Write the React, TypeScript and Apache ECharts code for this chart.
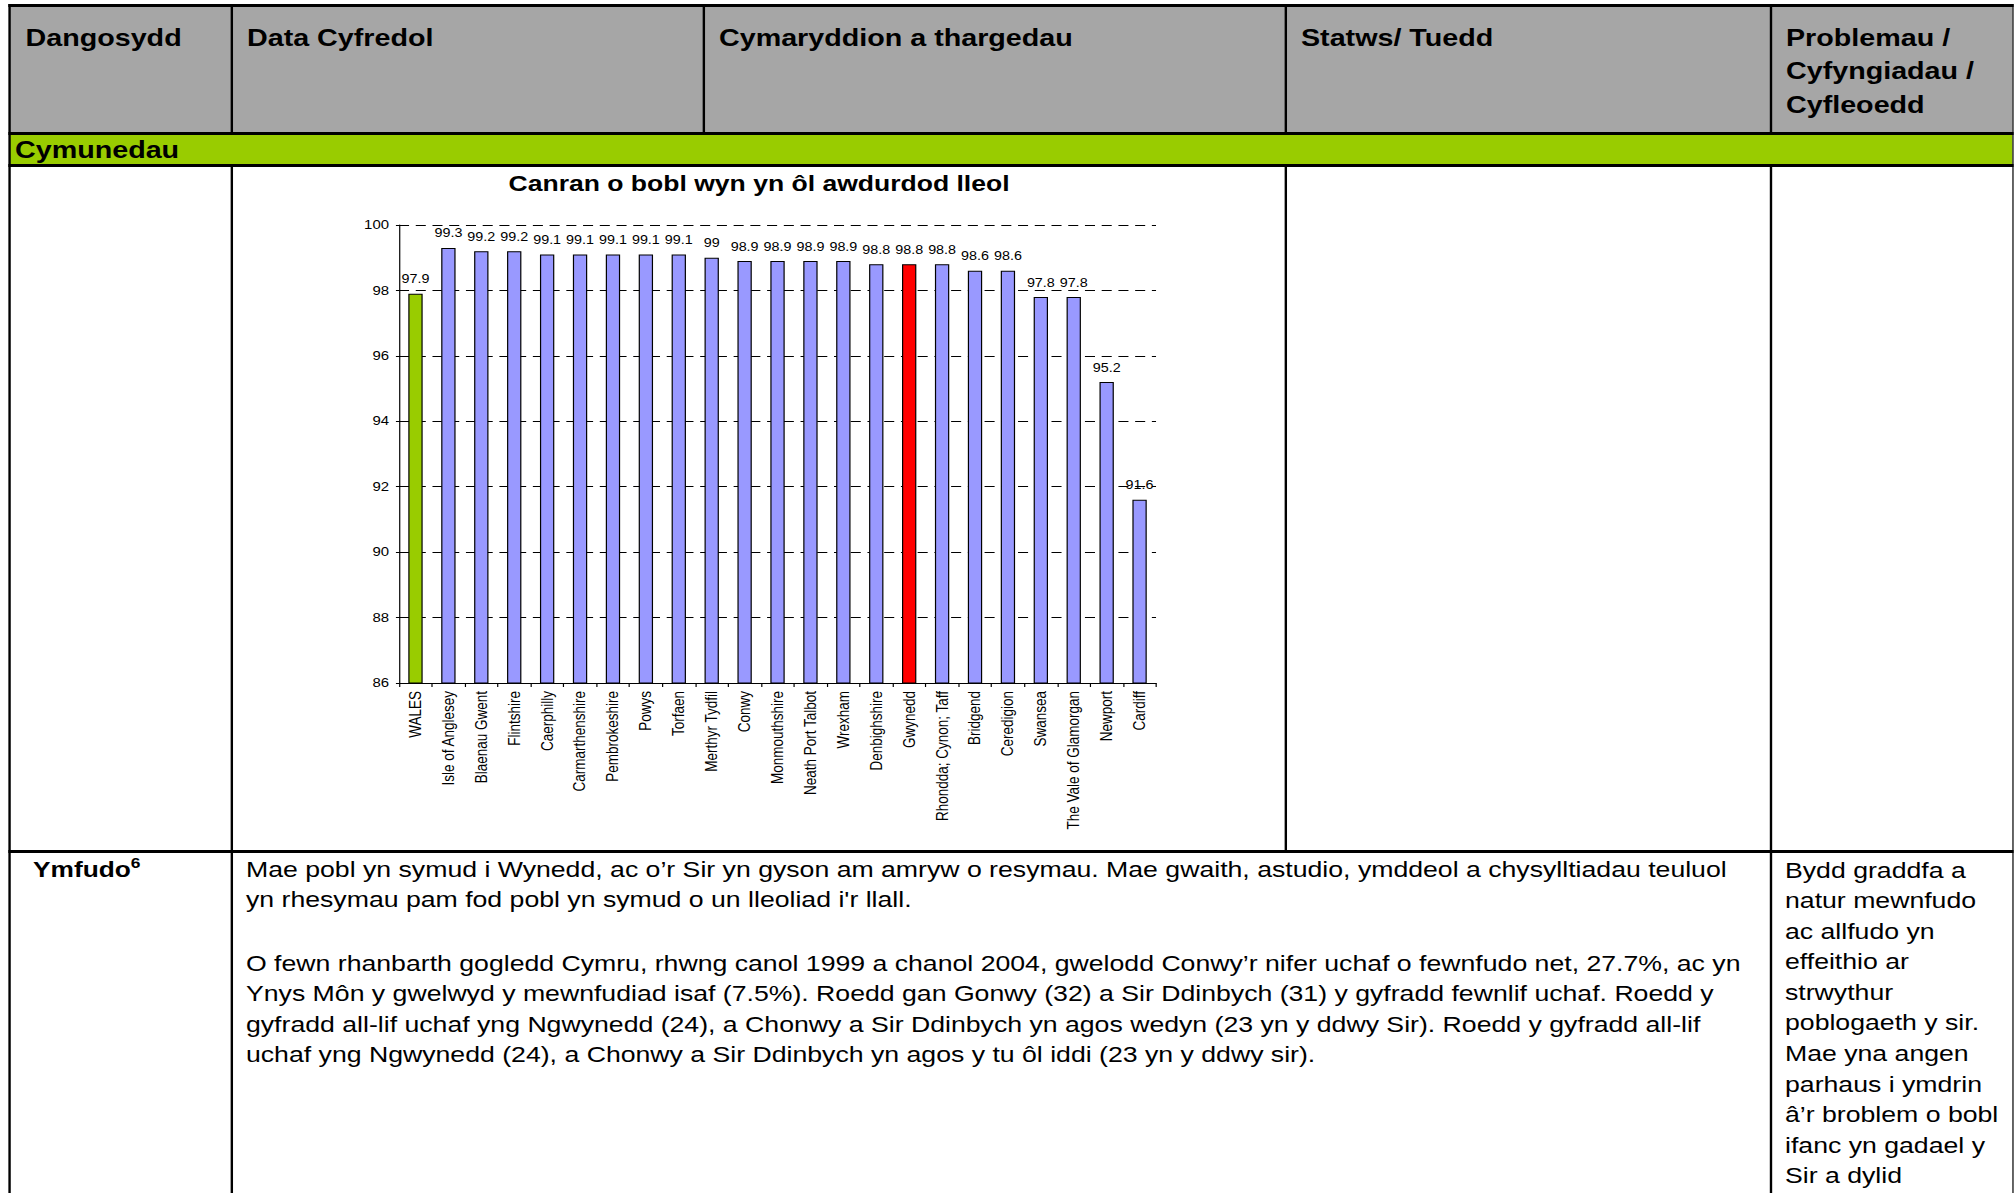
import React, { useEffect, useRef } from "react";
import * as echarts from "echarts";

// ---------- data ----------
const chartTitle = "Canran o bobl wyn yn ôl awdurdod lleol";
const categories = [
  "WALES",
  "Isle of Anglesey",
  "Blaenau Gwent",
  "Flintshire",
  "Caerphilly",
  "Carmarthenshire",
  "Pembrokeshire",
  "Powys",
  "Torfaen",
  "Merthyr Tydfil",
  "Conwy",
  "Monmouthshire",
  "Neath Port Talbot",
  "Wrexham",
  "Denbighshire",
  "Gwynedd",
  "Rhondda; Cynon; Taff",
  "Bridgend",
  "Ceredigion",
  "Swansea",
  "The Vale of Glamorgan",
  "Newport",
  "Cardiff",
];
const values = [
  97.9, 99.3, 99.2, 99.2, 99.1, 99.1, 99.1, 99.1, 99.1, 99, 98.9, 98.9, 98.9,
  98.9, 98.8, 98.8, 98.8, 98.6, 98.6, 97.8, 97.8, 95.2, 91.6,
];
const yMin = 86;
const yMax = 100;
const yStep = 2;
const nationCategory = "WALES";
const focusCategory = "Gwynedd";

const headerCells = [
  ["Dangosydd"],
  ["Data Cyfredol"],
  ["Cymaryddion a thargedau"],
  ["Statws/ Tuedd"],
  ["Problemau /", "Cyfyngiadau /", "Cyfleoedd"],
];
const sectionLabel = "Cymunedau";
const rowLabel = "Ymfudo";
const rowFootnote = "6";
const paragraph1 = [
  "Mae pobl yn symud i Wynedd, ac o’r Sir yn gyson am amryw o resymau. Mae gwaith, astudio, ymddeol a chysylltiadau teuluol",
  "yn rhesymau pam fod pobl yn symud o un lleoliad i'r llall.",
];
const paragraph2 = [
  "O fewn rhanbarth gogledd Cymru, rhwng canol 1999 a chanol 2004, gwelodd Conwy’r nifer uchaf o fewnfudo net, 27.7%, ac yn",
  "Ynys Môn y gwelwyd y mewnfudiad isaf (7.5%). Roedd gan Gonwy (32) a Sir Ddinbych (31) y gyfradd fewnlif uchaf. Roedd y",
  "gyfradd all-lif uchaf yng Ngwynedd (24), a Chonwy a Sir Ddinbych yn agos wedyn (23 yn y ddwy Sir). Roedd y gyfradd all-lif",
  "uchaf yng Ngwynedd (24), a Chonwy a Sir Ddinbych yn agos y tu ôl iddi (23 yn y ddwy sir).",
];
const issuesLines = [
  "Bydd graddfa a",
  "natur mewnfudo",
  "ac allfudo yn",
  "effeithio ar",
  "strwythur",
  "poblogaeth y sir.",
  "Mae yna angen",
  "parhaus i ymdrin",
  "â’r broblem o bobl",
  "ifanc yn gadael y",
  "Sir a dylid",
];

// ---------- layout / style ----------
const PAGE_W = 2015;
const PAGE_H = 1193;
const S = 1.195; // horizontal stretch of the original page
const U_W = PAGE_W / S;
const ux = (full: number) => full / S;
const FONT = "'Liberation Sans', Arial, Helvetica, sans-serif";
const BLUE = "#9999FF";
const GREEN = "#99CC00";
const RED = "#FF0000";
const HEADER_GREY = "#A6A6A6";

const colX = [9.5, 232, 704, 1286, 1771, 2013]; // full-size x of vertical rules

function Box(props: { x1: number; x2: number; y1: number; y2: number; bg: string }) {
  const { x1, x2, y1, y2, bg } = props;
  return (
    <div
      style={{
        position: "absolute",
        left: ux(x1),
        width: ux(x2) - ux(x1),
        top: y1,
        height: y2 - y1,
        background: bg,
      }}
    />
  );
}

function VLine(props: { x: number; y1: number; y2: number }) {
  return <Box x1={props.x - 1} x2={props.x + 1} y1={props.y1} y2={props.y2} bg="#000" />;
}
function HLine(props: { y: number; x1?: number; x2?: number }) {
  return <Box x1={props.x1 ?? 8.5} x2={props.x2 ?? 2014} y1={props.y - 1.4} y2={props.y + 1.4} bg="#000" />;
}

function TextBlock(props: {
  x: number;
  top: number;
  lines: string[];
  size: number;
  lh: number;
  bold?: boolean;
}) {
  return (
    <div
      style={{
        position: "absolute",
        left: ux(props.x),
        top: props.top,
        fontFamily: FONT,
        fontSize: props.size,
        lineHeight: props.lh + "px",
        fontWeight: props.bold ? "bold" : "normal",
        color: "#000",
        whiteSpace: "nowrap",
      }}
    >
      {props.lines.map((l, i) => (
        <div key={i}>{l}</div>
      ))}
    </div>
  );
}

// chart cell (full coords)
const CELL_X1 = 233;
const CELL_X2 = 1285;
const CELL_Y1 = 167;
const CELL_Y2 = 850;
const PLOT_X1 = 399;
const PLOT_X2 = 1156;
const PLOT_Y1 = 225;
const PLOT_Y2 = 683;

function Chart() {
  const ref = useRef<HTMLDivElement>(null);
  useEffect(() => {
    if (!ref.current) return;
    const chart = echarts.init(ref.current, undefined, { renderer: "svg" });
    const barColor = (c: string) =>
      c === nationCategory ? GREEN : c === focusCategory ? RED : BLUE;
    chart.setOption({
      animation: false,
      textStyle: { fontFamily: FONT },
      graphic: [
        {
          type: "text",
          x: ux(759) - ux(CELL_X1),
          y: 182.8 - CELL_Y1,
          style: {
            text: chartTitle,
            fontSize: 22.2,
            fontWeight: "bold",
            fill: "#000",
            align: "center",
            verticalAlign: "middle",
            fontFamily: FONT,
          },
        },
      ],
      grid: {
        left: ux(PLOT_X1) - ux(CELL_X1),
        top: PLOT_Y1 - CELL_Y1,
        width: ux(PLOT_X2) - ux(PLOT_X1),
        height: PLOT_Y2 - PLOT_Y1,
        containLabel: false,
      },
      xAxis: {
        type: "category",
        data: categories,
        axisLine: { show: true, onZero: false, lineStyle: { color: "#000", width: 1 } },
        axisTick: { show: true, length: 4, lineStyle: { color: "#000" } },
        axisLabel: {
          interval: 0,
          rotate: 90,
          fontSize: 13.5,
          color: "#000",
          margin: 8,
          fontFamily: FONT,
        },
        splitLine: { show: false },
      },
      yAxis: {
        type: "value",
        min: yMin,
        max: yMax,
        interval: yStep,
        axisLine: { show: true, lineStyle: { color: "#000", width: 1 } },
        axisTick: { show: true, length: 2.6, lineStyle: { color: "#000" } },
        axisLabel: { fontSize: 12.5, color: "#000", margin: 8.4, fontFamily: FONT },
        splitLine: {
          show: true,
          lineStyle: { color: "#000", type: [8.4, 5.6], width: 1 },
        },
      },
      series: [
        {
          type: "bar",
          data: values.map((v, i) => ({
            value: v,
            itemStyle: { color: barColor(categories[i]) },
          })),
          barWidth: 12,
          itemStyle: { borderColor: "#000", borderWidth: 1 },
          label: {
            show: true,
            position: "top",
            distance: 8.5,
            fontSize: 12,
            color: "#000",
            fontFamily: FONT,
          },
        },
      ],
    });
    return () => chart.dispose();
  }, []);
  return (
    <div
      ref={ref}
      style={{
        position: "absolute",
        left: ux(CELL_X1),
        top: CELL_Y1,
        width: ux(CELL_X2) - ux(CELL_X1),
        height: CELL_Y2 - CELL_Y1,
      }}
    />
  );
}

export default function App() {
  useEffect(() => {
    document.body.style.margin = "0";
    document.body.style.overflow = "hidden";
    document.documentElement.style.overflow = "hidden";
  }, []);

  const headerLH = 33.4;
  const headerTop = 21;
  const bodyLH = 30.6;
  const bodyTop = 854.5;
  const bodySize = 22.3;

  return (
    <div
      style={{
        position: "absolute",
        left: 0,
        top: 0,
        width: U_W,
        height: PAGE_H,
        overflow: "hidden",
        background: "#fff",
        transform: `scaleX(${S})`,
        transformOrigin: "0 0",
      }}
    >
      {/* backgrounds */}
      <Box x1={10} x2={2012.5} y1={5} y2={133} bg={HEADER_GREY} />
      <Box x1={10} x2={2012.5} y1={134} y2={165} bg={GREEN} />

      {/* horizontal rules */}
      <HLine y={5.2} />
      <HLine y={133.3} />
      <HLine y={165.2} />
      <HLine y={851.5} />

      {/* vertical rules */}
      <VLine x={colX[0]} y1={4} y2={PAGE_H} />
      <VLine x={colX[5]} y1={4} y2={PAGE_H} />
      <VLine x={colX[1]} y1={4} y2={134} />
      <VLine x={colX[1]} y1={165} y2={PAGE_H} />
      <VLine x={colX[2]} y1={4} y2={134} />
      <VLine x={colX[3]} y1={4} y2={134} />
      <VLine x={colX[3]} y1={165} y2={852} />
      <VLine x={colX[4]} y1={4} y2={134} />
      <VLine x={colX[4]} y1={165} y2={PAGE_H} />

      {/* header texts */}
      {headerCells.map((lines, i) => (
        <TextBlock
          key={i}
          x={colX[i] + (i === 0 ? 16 : 15)}
          top={headerTop}
          lines={lines}
          size={24}
          lh={headerLH}
          bold
        />
      ))}

      {/* section band */}
      <TextBlock x={15} top={135.2} lines={[sectionLabel]} size={24} lh={29} bold />

      {/* chart */}
      <Chart />

      {/* migration row */}
      <div
        style={{
          position: "absolute",
          left: ux(33),
          top: bodyTop,
          fontFamily: FONT,
          fontSize: 22,
          lineHeight: bodyLH + "px",
          fontWeight: "bold",
          whiteSpace: "nowrap",
          color: "#000",
        }}
      >
        {rowLabel}
        <sup style={{ fontSize: 14.5, verticalAlign: "top", position: "relative", top: -7 }}>
          {rowFootnote}
        </sup>
      </div>
      <TextBlock x={246} top={bodyTop} lines={paragraph1} size={bodySize} lh={bodyLH} />
      <TextBlock x={246} top={948.5} lines={paragraph2} size={bodySize} lh={bodyLH} />
      <TextBlock x={1785} top={bodyTop + 1} lines={issuesLines} size={bodySize} lh={bodyLH} />
    </div>
  );
}
